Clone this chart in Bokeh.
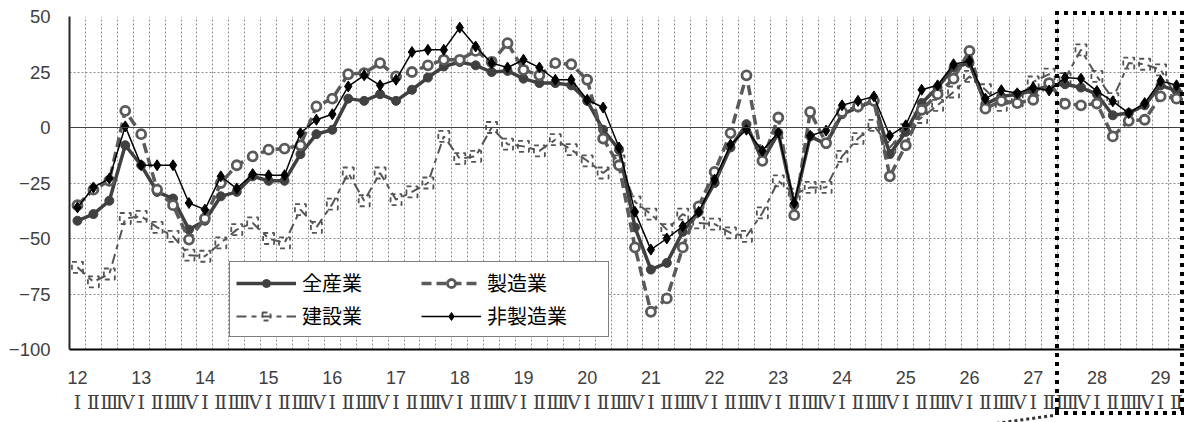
from bokeh.plotting import figure
from bokeh.models import Range1d, FixedTicker, LinearAxis, Legend, LegendItem, Span, InlineStyleSheet
from bokeh.embed import file_html
from bokeh.resources import INLINE

years = [str(y) for y in range(12, 30)]
quarters = ["Ⅰ", "Ⅱ", "Ⅲ", "Ⅳ"]
periods = [(y, q) for y in years for q in quarters][:70]

all_ind = [-42, -39, -33, -8, -17, -29, -32, -46, -42, -31, -29, -22, -24, -24, -12, -3,
           -1, 13, 12, 15, 12, 17, 22.5, 27.5, 29.5, 28, 25, 25.5, 22, 20, 20, 19,
           12, -1, -10, -45, -64, -61, -47, -38, -25, -9, 1.5, -15, -2.5, -35,
           -4, -7.5, 6, 9, 12, -12, -2, 11, 18, 27, 29, 10.5, 14, 15, 16.5, 19,
           19.5, 18, 15, 5.5, 6.5, 10, 19, 16.5]
manuf = [-35, -28, -24, 7.5, -3, -28, -35, -50.5, -41, -25, -17, -13, -10, -9.5, -8, 9.5,
         13, 24, 24.5, 29, 23, 25, 28, 30.5, 30.5, 34.5, 29.5, 38, 26, 23.5, 29, 28.5,
         21.5, -5, -17, -54, -83, -77, -54, -35.5, -20, -2.5, 23.5, -15, 4.5, -39.5,
         7, -7, 7, 9.5, 12, -22, -8, 8, 15, 22, 34.5, 8.5, 12, 11, 12.5, 20,
         10.7, 10, 10.8, -4, 3, 3.5, 14, 13]
constr = [-63, -69.5, -66, -41, -40, -45, -49, -57.5, -58, -52, -46, -43, -50, -52, -37, -45,
          -34.5, -20.5, -33, -20.5, -32.5, -29, -25, -4, -14, -13, 0, -7.5, -8.5, -10.5, -5.5, -10,
          -15, -20.5, -15, -33.5, -39, -46, -39, -43, -43.5, -47.5, -49, -38.5, -24, -30,
          -27, -27, -13, -5, 1, -9, -1, 4.5, 10, 16, 23, 17, 10, 12, 20.5, 24,
          22, 35, 23, 13, 29, 28.5, 26, 14]
nonmanuf = [-36, -27, -23, 0.5, -17, -17, -17, -34, -37, -22, -27.5, -21, -21.5, -21.5, -2.5, 3.5,
            6, 18.5, 23.5, 19, 21.5, 34, 35, 35, 45, 36.5, 29, 27, 30.5, 27, 21.5, 21.5,
            12.5, 9, -9, -38, -55, -50, -44.5, -38, -23.5, -7.7, -1, -10.5, -2.3, -34,
            -3.7, -1.4, 10, 12, 14, -3.7, 1, 17, 19, 28.5, 30, 13, 16.8, 15.4, 18, 16.7,
            22.5, 22, 16.4, 11.8, 6.5, 11, 21, 19]

series_names = ["全産業", "製造業", "建設業", "非製造業"]
y_ticks = [-100, -75, -50, -25, 0, 25, 50]
y_labels = ["−100", "−75", "−50", "−25", "0", "25", "50"]
forecast_start = ("27", "Ⅲ")

x = list(range(len(periods)))
fs = periods.index(forecast_start)

W, H = 1184, 415
MBL, MBR, MBT, MBB = 69, 0, 16, 64

p = figure(width=W, height=H, x_range=Range1d(-0.5, len(x) - 0.5), y_range=Range1d(-100, 50),
           output_backend="svg", toolbar_location=None,
           min_border_left=MBL, min_border_right=MBR, min_border_top=MBT, min_border_bottom=MBB)
p.outline_line_color = None
p.background_fill_color = "white"

# grids
p.xgrid.ticker = FixedTicker(ticks=[i + 0.5 for i in x[:-1]])
p.ygrid.ticker = FixedTicker(ticks=y_ticks)
for g in (p.xgrid, p.ygrid):
    g.grid_line_color = "#8c8c8c"
    g.grid_line_dash = "2 2"
    g.grid_line_width = 1
p.add_layout(Span(location=0, dimension="width", line_color="#404040", line_width=1.2))

# axes
yax = p.yaxis[0]
yax.ticker = FixedTicker(ticks=y_ticks)
yax.major_label_overrides = dict(zip(y_ticks, y_labels))
yax.axis_line_color = "#262626"
yax.axis_line_width = 2
yax.major_tick_line_color = None
yax.minor_tick_line_color = None
yax.major_label_text_font = "Liberation Sans"
yax.major_label_text_font_size = "18.5px"
yax.major_label_text_color = "#404040"
yax.major_label_standoff = 13

xax = p.xaxis[0]
year_ticks = [i for i, (yy, q) in enumerate(periods) if q == quarters[0]]
xax.ticker = FixedTicker(ticks=year_ticks)
xax.major_label_overrides = {i: periods[i][0] for i in year_ticks}
xax.axis_line_color = "black"
xax.axis_line_width = 2
xax.major_tick_line_color = None
xax.minor_tick_line_color = None
xax.major_label_text_font = "Liberation Sans"
xax.major_label_text_font_size = "18px"
xax.major_label_text_color = "#404040"
xax.major_label_standoff = 15

qax = LinearAxis(ticker=FixedTicker(ticks=x), major_label_overrides={i: periods[i][1] for i in x})
qax.axis_line_color = None
qax.major_tick_line_color = None
qax.minor_tick_line_color = None
qax.major_label_text_font = "DejaVu Serif"
qax.major_label_text_font_size = "19px"
qax.major_label_text_color = "#404040"
qax.major_label_standoff = -2
p.add_layout(qax, "below")

# series
l3 = p.line(x, constr, line_width=2, color="#555555", line_dash="10 5 5 5")
s3 = p.scatter(x, constr, marker="square", size=11, fill_color=None, line_color="#555555",
               line_width=1.8, line_dash="5 4")
l1 = p.line(x, all_ind, line_width=3.5, color="#404040")
s1 = p.scatter(x, all_ind, marker="circle", size=9, fill_color="#404040", line_color="#404040")
l2 = p.line(x, manuf, line_width=3.5, color="#5a5a5a", line_dash="10 5")
s2 = p.scatter(x, manuf, marker="circle", size=9, fill_color="white", line_color="#5a5a5a", line_width=2.8)
l4 = p.line(x, nonmanuf, line_width=1.5, color="black")
s4 = p.scatter(x, nonmanuf, marker="diamond", size=11, fill_color="black", line_color="black")

legend = Legend(items=[
    LegendItem(label=series_names[0], renderers=[l1, s1]),
    LegendItem(label=series_names[2], renderers=[l3, s3]),
    LegendItem(label=series_names[1], renderers=[l2, s2]),
    LegendItem(label=series_names[3], renderers=[l4, s4]),
], location=(160, 12), ncols=2)
legend.label_text_font = "Noto Sans CJK JP"
legend.label_text_font_size = "20px"
legend.label_text_color = "black"
legend.glyph_width = 60
legend.glyph_height = 20
legend.label_standoff = 6
legend.label_width = 115
legend.label_height = 20
legend.spacing = 4
legend.padding = 6
legend.margin = 0
legend.border_line_color = "black"
legend.border_line_width = 1
legend.background_fill_alpha = 1
p.add_layout(legend)

# forecast frame: dotted box from the forecast quarter to the end, extending over the labels,
# plus the start of a dotted callout leading away from its lower-left corner
frame_w = W - MBL - MBR
box_left = MBL + (fs / len(x)) * frame_w - 2
box_top = MBT - 5
css = f"""
:host {{ position: relative; overflow: visible; }}
:host::after {{
  content: "";
  position: absolute;
  z-index: 100;
  pointer-events: none;
  left: {box_left:.1f}px; top: {box_top}px;
  width: {W - box_left:.1f}px; height: {H - box_top}px;
  background:
    repeating-linear-gradient(to right, #000 0 4px, transparent 4px 9px) left top / 100% 4px no-repeat,
    repeating-linear-gradient(to right, #000 0 4px, transparent 4px 9px) left bottom / 100% 4px no-repeat,
    repeating-linear-gradient(to bottom, #000 0 4px, transparent 4px 9px) left top / 4px 100% no-repeat,
    repeating-linear-gradient(to bottom, #000 0 4px, transparent 4px 9px) right top / 4px 100% no-repeat;
}}
:host::before {{
  content: "";
  position: absolute;
  z-index: 100;
  pointer-events: none;
  left: {box_left - 66:.1f}px; top: {H - 1}px;
  width: 64px; height: 0;
  border-top: 3px dotted #333;
  transform-origin: right center;
  transform: rotate(-8deg);
}}
"""
p.stylesheets = [InlineStyleSheet(css=css)]

open("out.html", "w").write(file_html(p, INLINE))
